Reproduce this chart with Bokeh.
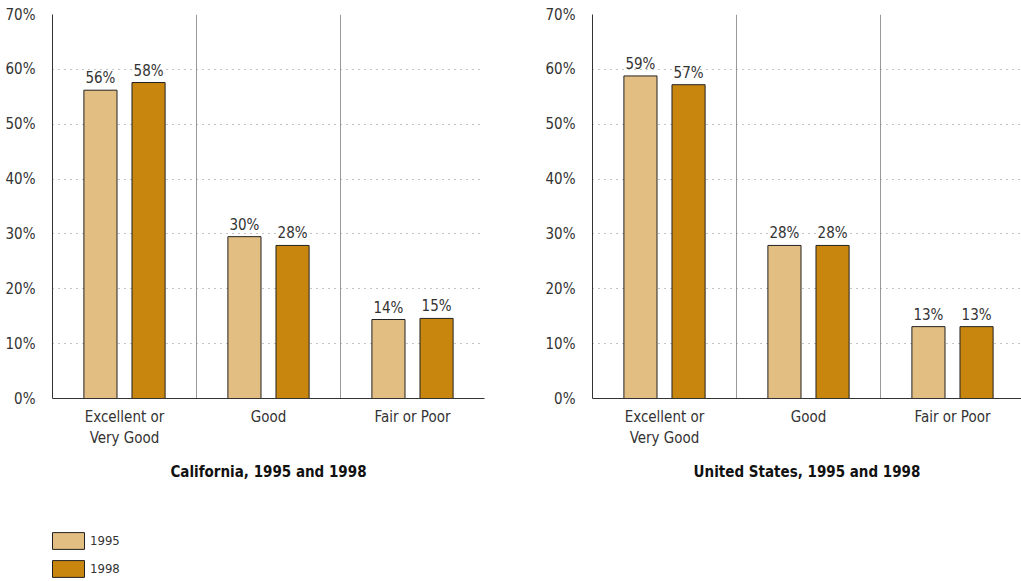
from bokeh.plotting import figure
from bokeh.models import ColumnDataSource, FixedTicker, Legend, LegendItem
from bokeh.core.properties import value
from bokeh.layouts import column, row
from bokeh.embed import file_html
from bokeh.resources import INLINE

# Self-reported health status, share of adults
categories = ["Excellent or\nVery Good", "Good", "Fair or Poor"]
years = ["1995", "1998"]
ca_1995 = [56.2, 29.5, 14.4]
ca_1998 = [57.6, 27.9, 14.6]
us_1995 = [58.8, 27.9, 13.1]
us_1998 = [57.2, 27.9, 13.1]
y_ticks = [0, 10, 20, 30, 40, 50, 60, 70]
panel_titles = ["California, 1995 and 1998", "United States, 1995 and 1998"]

FONT = "DejaVu Sans Condensed"
TEXT = "#333333"
COLORS = {"1995": "#E3BE82", "1998": "#C8860F"}
OFFSET = 0.167
BAR_W = 0.23


def make_panel(title, v95, v98, width, left, right, x_end):
    p = figure(width=width, height=510, x_range=(0, x_end), y_range=(0, 70),
               output_backend="svg", toolbar_location=None,
               min_border_left=left, min_border_right=right,
               min_border_top=14, min_border_bottom=112)
    p.outline_line_color = None
    p.background_fill_color = "white"

    centers = [i + 0.5 for i in range(len(categories))]
    for yr, vals, sign in (("1995", v95, -1), ("1998", v98, 1)):
        xs = [c + sign * OFFSET for c in centers]
        src = ColumnDataSource(dict(x=xs, top=vals,
                                    label=[f"{round(v)}%" for v in vals]))
        p.vbar(x="x", top="top", width=BAR_W, source=src,
               fill_color=COLORS[yr], line_color="#222222", line_width=1)
        p.text(x="x", y="top", text="label", source=src,
               text_align="center", text_baseline="bottom", y_offset=-3,
               text_font=value(FONT), text_font_size="15px", text_color=TEXT)

    # y axis
    p.yaxis.ticker = FixedTicker(ticks=y_ticks)
    p.yaxis.major_label_overrides = {t: f"{t}%" for t in y_ticks}
    p.yaxis.major_label_text_font = FONT
    p.yaxis.major_label_text_font_size = "15px"
    p.yaxis.major_label_text_color = TEXT
    p.yaxis.major_label_standoff = 11
    p.yaxis.axis_line_color = "#333333"
    p.yaxis.major_tick_line_color = None
    p.yaxis.minor_tick_line_color = None

    # x axis with category names and the panel title
    p.xaxis.ticker = FixedTicker(ticks=centers)
    p.xaxis.major_label_overrides = {c: n for c, n in zip(centers, categories)}
    p.xaxis.major_label_text_font = FONT
    p.xaxis.major_label_text_font_size = "15px"
    p.xaxis.major_label_text_color = TEXT
    p.xaxis.major_label_standoff = 3
    p.xaxis.axis_line_color = "#333333"
    p.xaxis.major_tick_line_color = None
    p.xaxis.minor_tick_line_color = None
    p.xaxis.axis_label = title
    p.xaxis.axis_label_text_font = FONT
    p.xaxis.axis_label_text_font_style = "bold"
    p.xaxis.axis_label_text_font_size = "15px"
    p.xaxis.axis_label_text_color = "#111111"
    p.xaxis.axis_label_standoff = 13

    # dotted horizontal grid, solid dividers between categories
    p.ygrid.ticker = FixedTicker(ticks=y_ticks)
    p.ygrid.grid_line_color = "#888888"
    p.ygrid.grid_line_dash = "1 5"
    p.ygrid.grid_line_width = 1
    p.xgrid.ticker = FixedTicker(ticks=[1, 2])
    p.xgrid.grid_line_color = "#999999"
    p.xgrid.grid_line_width = 1
    return p


left = make_panel(panel_titles[0], ca_1995, ca_1998, 540, 52, 56, 3)
right = make_panel(panel_titles[1], us_1995, us_1998, 481, 52, 0, 3 * 429 / 432)

# legend strip; the swatch renderers sit outside the visible range
leg = figure(width=1021, height=71, x_range=(0, 1), y_range=(0, 1),
             output_backend="svg", toolbar_location=None,
             x_axis_location=None, y_axis_location=None,
             min_border_left=48, min_border_top=20,
             min_border_right=0, min_border_bottom=0)
leg.outline_line_color = None
leg.grid.visible = False
items = []
for yr in years:
    r = leg.vbar(x=[-5], top=[-5], bottom=[-6], width=0.1, fill_color=COLORS[yr],
                 line_color="#222222", line_width=1)
    items.append(LegendItem(label=yr, renderers=[r]))
legend = Legend(items=items, location="top_left", margin=0, padding=0,
                glyph_width=40, glyph_height=21, label_height=21,
                spacing=7, label_standoff=2,
                label_text_font=FONT, label_text_font_size="13px",
                label_text_color=TEXT, border_line_color=None,
                background_fill_alpha=0)
leg.add_layout(legend, "center")

layout = column(row(left, right), leg)
open("out.html", "w").write(file_html(layout, INLINE))
